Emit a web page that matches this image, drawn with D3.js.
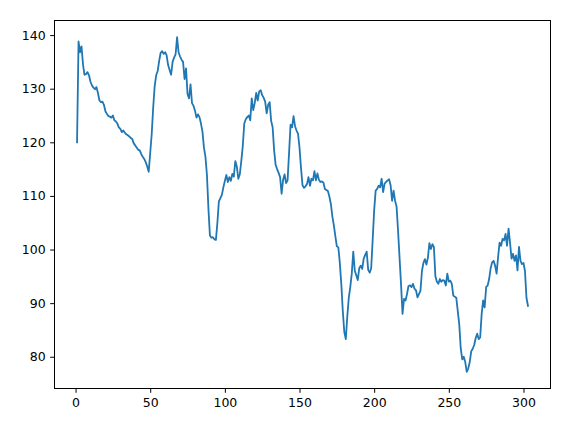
<!DOCTYPE html>
<html>
<head>
<meta charset="utf-8">
<script src="https://cdn.jsdelivr.net/npm/d3@7"></script>
<style>
  html, body { margin: 0; padding: 0; background: #fff; }
  svg { display: block; }
  .tick text { font-family: "DejaVu Sans", sans-serif; font-size: 12.5px; fill: #000; }
</style>
</head>
<body>
<svg id="chart" width="573" height="424"></svg>
<script>
// Series values for x = 1 .. 303
const values = [
  120.0, 138.8, 136.8, 137.9, 134.5, 132.6, 132.7, 133.1, 132.5, 131.3,
  130.6, 130.2, 129.9, 130.3, 129.2, 127.8, 127.5, 127.6, 127.0, 125.8,
  125.3, 124.9, 124.8, 124.6, 125.0, 124.1, 123.9, 123.5, 122.8, 122.5,
  121.9, 122.2, 121.8, 121.5, 121.3, 121.1, 120.8, 120.6, 119.8, 119.4,
  119.0, 118.6, 118.5, 117.8, 117.3, 116.9, 116.3, 115.5, 114.5, 118.0,
  121.5, 126.5, 130.5, 132.5, 133.3, 135.2, 136.7, 137.0, 136.5, 136.8,
  136.2, 134.4, 133.5, 132.6, 135.0, 135.8, 136.4, 139.6, 136.8, 136.0,
  135.4, 135.0, 131.8, 133.8, 129.0, 128.2, 130.8, 127.3, 126.8, 125.9,
  124.6, 125.2, 124.7, 123.5, 122.0, 119.0, 117.3, 113.9, 107.6, 102.6,
  102.2, 102.3, 101.9, 101.8, 105.0, 109.0, 109.6, 110.2, 111.6, 112.8,
  113.9, 112.6, 113.5, 112.8, 114.1, 113.6, 116.5, 115.5, 113.2, 114.0,
  116.5, 119.3, 123.5, 124.3, 124.7, 125.0, 124.1, 128.2, 126.0, 127.3,
  129.2, 127.8, 129.5, 129.7, 128.8, 128.3, 127.6, 125.4, 127.0, 127.5,
  124.0, 122.8, 118.5, 115.8, 115.0, 114.3, 113.5, 110.4, 113.0, 114.0,
  112.4, 112.9, 118.0, 123.3, 122.8, 124.9, 123.0, 122.2, 121.6, 119.0,
  115.2, 112.0, 111.5, 111.8, 112.2, 113.5, 111.9, 113.2, 112.9, 114.6,
  112.9, 114.2, 113.0, 112.6, 112.7, 112.5, 111.3, 111.1, 110.9, 109.9,
  108.5, 106.2, 104.5, 102.5, 100.6, 100.4, 97.5, 93.5, 88.5, 84.6,
  83.3, 87.5, 91.0, 93.0, 95.5, 99.6, 96.1, 95.2, 94.3, 96.5,
  97.0, 96.4, 98.3, 99.0, 99.6, 96.2, 95.7, 96.5, 101.8, 107.3,
  111.0, 111.3, 111.9, 111.6, 113.2, 110.7, 112.3, 112.6, 112.9, 113.1,
  112.0, 109.1, 111.0, 109.1, 108.0, 103.5, 98.5, 93.5, 88.0, 90.8,
  90.5, 91.7, 93.2, 93.3, 93.0, 93.6, 92.7, 92.4, 91.1, 91.7,
  92.3, 96.0, 97.5, 98.2, 97.2, 98.5, 101.2, 100.1, 101.0, 100.5,
  95.0, 94.0, 93.6, 94.5, 94.0, 94.3, 94.2, 93.3, 95.5, 94.0,
  94.2, 93.6, 91.4, 91.2, 91.0, 88.5, 86.0, 81.5, 79.5, 80.0,
  79.0, 77.2, 77.8, 79.0, 81.0, 81.5, 82.2, 83.5, 84.3, 83.3,
  83.6, 88.0, 90.5, 89.2, 93.0, 93.3, 94.5, 96.5, 97.6, 97.9,
  97.0, 95.5, 98.6, 101.3, 100.7, 102.0, 101.7, 102.9, 100.7, 103.9,
  101.3, 98.3, 99.2, 97.9, 98.9, 96.1, 100.5, 97.9, 97.3, 97.5,
  96.0, 91.0, 89.5
];
const xIndex = values.map((v, i) => i + 1);
const xTicks = [0, 50, 100, 150, 200, 250, 300];
const yTicks = [80, 90, 100, 110, 120, 130, 140];

const svg = d3.select("#chart");
const plot = { left: 54.5, right: 550.5, top: 20.5, bottom: 388.5 };

function padded(ext) {
  const m = (ext[1] - ext[0]) * 0.05;
  return [ext[0] - m, ext[1] + m];
}

const x = d3.scaleLinear().domain(padded(d3.extent(xIndex))).range([plot.left, plot.right]);
const y = d3.scaleLinear().domain(padded(d3.extent(values))).range([plot.bottom, plot.top]);

const data = values.map((v, i) => ({ x: xIndex[i], y: v }));

svg.append("path")
  .datum(data)
  .attr("fill", "none")
  .attr("stroke", "#1f77b4")
  .attr("stroke-width", 1.8)
  .attr("stroke-linejoin", "round")
  .attr("stroke-linecap", "square")
  .attr("d", d3.line().x(d => x(d.x)).y(d => y(d.y)));

const xAxis = svg.append("g")
  .attr("transform", `translate(0,${plot.bottom})`)
  .call(d3.axisBottom(x).tickValues(xTicks).tickSize(4.3).tickPadding(5).tickFormat(d3.format("d")));
const yAxis = svg.append("g")
  .attr("transform", `translate(${plot.left},0)`)
  .call(d3.axisLeft(y).tickValues(yTicks).tickSize(4.3).tickPadding(4.5).tickFormat(d3.format("d")));

[xAxis, yAxis].forEach(g => {
  g.select(".domain").remove();
  g.selectAll(".tick line").attr("stroke", "#000").attr("stroke-width", 1);
});

svg.append("rect")
  .attr("x", plot.left).attr("y", plot.top)
  .attr("width", plot.right - plot.left).attr("height", plot.bottom - plot.top)
  .attr("fill", "none").attr("stroke", "#000").attr("stroke-width", 1);
</script>
</body>
</html>
